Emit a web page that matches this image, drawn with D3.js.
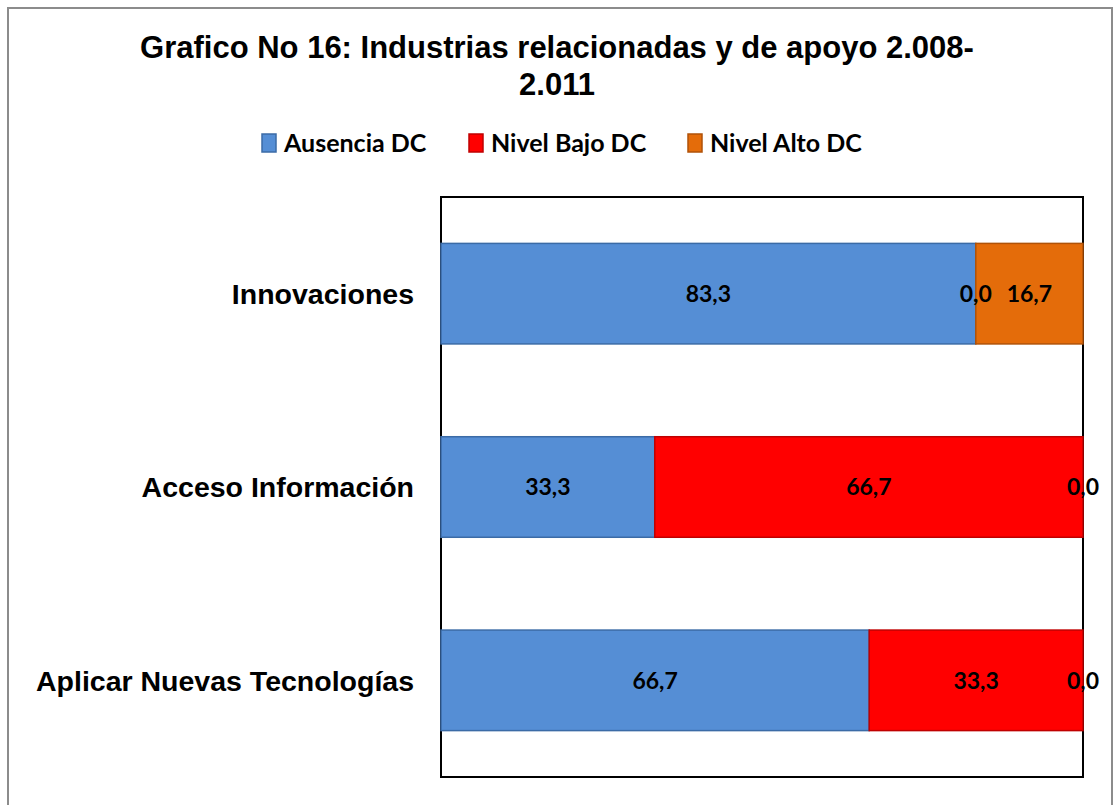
<!DOCTYPE html>
<html lang="es">
<head>
<meta charset="utf-8">
<title>Grafico No 16</title>
<style>
  body { margin: 0; background: #fff; }
  .title { font: bold 31px "Liberation Sans", Arial, sans-serif; fill: #000; }
  .cat { font: bold 28.5px "Liberation Sans", Arial, sans-serif; fill: #000; }
  .legend text { font: bold 25px Lato, "Open Sans", sans-serif; fill: #000; }
  .val { font: bold 23px Lato, "Open Sans", sans-serif; fill: #000; }
</style>
<script src="https://d3js.org/d3.v7.min.js"></script>
</head>
<body>
<svg width="1116" height="805"></svg>
<script>
var categories = ["Innovaciones", "Acceso Información", "Aplicar Nuevas Tecnologías"];
var seriesNames = ["Ausencia DC", "Nivel Bajo DC", "Nivel Alto DC"];
var ausencia = [83.3, 33.3, 66.7];
var nivelBajo = [0.0, 66.7, 33.3];
var nivelAlto = [16.7, 0.0, 0.0];
var fills = ["#558ed5", "#ff0000", "#e46c0a"];
var strokes = ["#3b6ba6", "#c00000", "#b05208"];

var svg = d3.select("svg");

// outer frame
svg.append("rect")
    .attr("x", 8).attr("y", 8).attr("width", 1104).attr("height", 820)
    .attr("fill", "#fff").attr("stroke", "#8c8c8c").attr("stroke-width", 2);

var margin = {left: 441, top: 197, right: 1083, bottom: 777};

var x = d3.scaleLinear().domain([0, 100]).range([margin.left, margin.right]);
var y = d3.scaleBand().domain(categories).range([margin.top, margin.bottom]).paddingInner(0.48).paddingOuter(0.24);

// title
svg.append("text").attr("class", "title").attr("x", 557).attr("y", 58)
    .attr("text-anchor", "middle").text("Grafico No 16: Industrias relacionadas y de apoyo 2.008-");
svg.append("text").attr("class", "title").attr("x", 557).attr("y", 95)
    .attr("text-anchor", "middle").text("2.011");

// legend
var legendX = [262, 469, 688];
var lg = svg.append("g").attr("class", "legend");
seriesNames.forEach(function(name, i) {
  lg.append("rect").attr("x", legendX[i]).attr("y", 134).attr("width", 14).attr("height", 18)
      .attr("fill", fills[i]).attr("stroke", strokes[i]).attr("stroke-width", 1.5);
  lg.append("text").attr("x", legendX[i] + 22).attr("y", 152).text(name);
});

// stacked data
var rows = categories.map(function(c, i) {
  return {cat: c, vals: [ausencia[i], nivelBajo[i], nivelAlto[i]]};
});
var stack = [];
rows.forEach(function(r) {
  var acc = 0;
  r.vals.forEach(function(v, k) {
    stack.push({cat: r.cat, k: k, x0: acc, x1: acc + v, v: v});
    acc += v;
  });
});

// plot area
svg.append("rect")
    .attr("x", margin.left).attr("y", margin.top)
    .attr("width", margin.right - margin.left).attr("height", margin.bottom - margin.top)
    .attr("fill", "#fff").attr("stroke", "#000").attr("stroke-width", 2);

svg.append("g").selectAll("rect")
  .data(stack.filter(function(d) { return d.v > 0; }))
  .enter().append("rect")
    .attr("x", function(d) { return x(d.x0); })
    .attr("y", function(d) { return y(d.cat); })
    .attr("width", function(d) { return x(d.x1) - x(d.x0); })
    .attr("height", y.bandwidth())
    .attr("fill", function(d) { return fills[d.k]; })
    .attr("stroke", function(d) { return strokes[d.k]; })
    .attr("stroke-width", 1.5);

svg.append("g").selectAll("text")
  .data(stack)
  .enter().append("text")
    .attr("class", "val")
    .attr("x", function(d) { return (x(d.x0) + x(d.x1)) / 2; })
    .attr("y", function(d) { return y(d.cat) + y.bandwidth() / 2; })
    .attr("dy", "0.36em")
    .attr("text-anchor", "middle")
    .text(function(d) { return d.v.toFixed(1).replace(".", ","); });

// category labels
svg.append("g").selectAll("text")
  .data(categories)
  .enter().append("text")
    .attr("class", "cat")
    .attr("x", 414)
    .attr("y", function(d) { return y(d) + y.bandwidth() / 2; })
    .attr("dy", "0.36em")
    .attr("text-anchor", "end")
    .text(function(d) { return d; });
</script>
</body>
</html>
